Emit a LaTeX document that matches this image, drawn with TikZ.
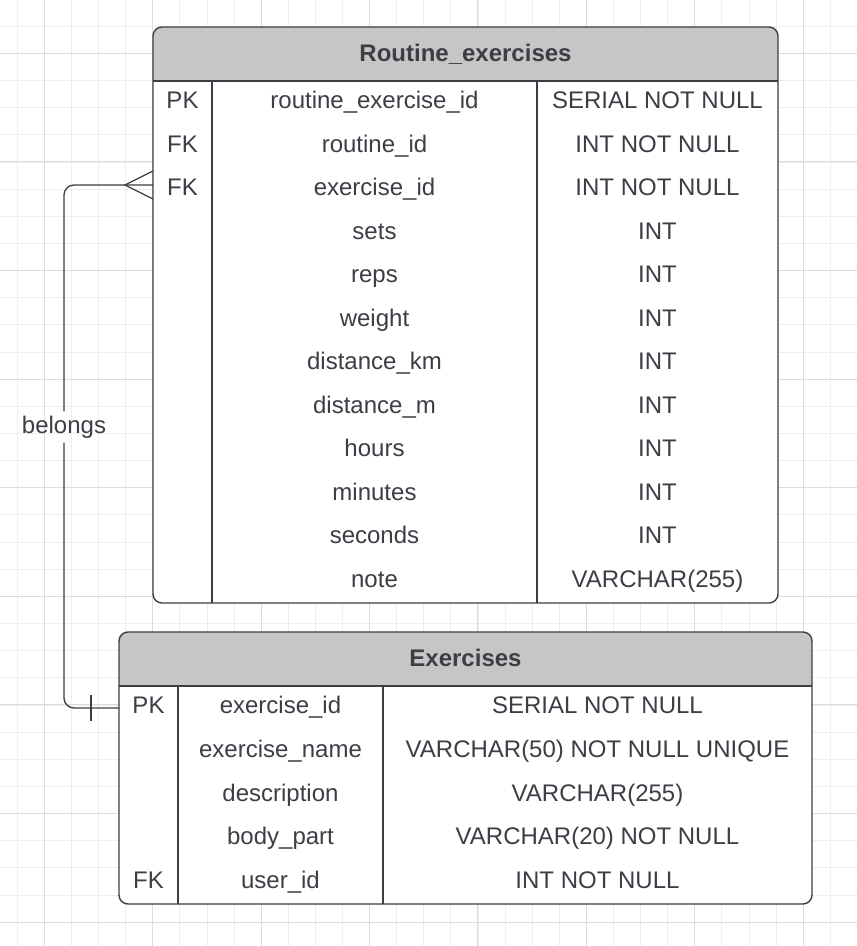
\documentclass[tikz,border=0pt]{standalone}
\usepackage{fontspec}
\setmainfont{Liberation Sans}
\usetikzlibrary{arrows.meta,positioning}

\definecolor{ink}{HTML}{3B3E45}
\definecolor{headgray}{HTML}{C6C6C6}
\definecolor{gridminor}{HTML}{EEEEEE}
\definecolor{gridmajor}{HTML}{DCDCDC}

\tikzset{
  cell/.style={text=ink, inner sep=0pt, text height=18pt, text depth=6pt, font=\fontsize{24}{28}\selectfont},
  title/.style={cell, text depth=4pt, font=\fontsize{24}{28}\selectfont\bfseries},
  frame/.style={draw=ink, line width=1.4pt},
  link/.style={draw=ink, line width=1.3pt}
}

\begin{document}
\begin{tikzpicture}[x=1pt,y=-1pt]
    \useasboundingbox (0,0) rectangle (857,946);
    \fill[white] (0,0) rectangle (857,946);

    % Background grid
    \foreach \k in {0,...,31} \draw[gridminor, line width=0.8pt] (17.2+27.1*\k,0) -- (17.2+27.1*\k,946);
    \foreach \k in {0,...,34} \draw[gridminor, line width=0.8pt] (0,26.15+27.15*\k) -- (857,26.15+27.15*\k);
    \foreach \k in {0,...,7} \draw[gridmajor, line width=0.9pt] (44.3+108.4*\k,0) -- (44.3+108.4*\k,946);
    \foreach \k in {0,...,8} \draw[gridmajor, line width=0.9pt] (0,53.3+108.6*\k) -- (857,53.3+108.6*\k);

    % Routine_exercises table
    \fill[white, rounded corners=9pt] (153,27) rectangle (778,603);
    \begin{scope}
        \clip[rounded corners=9pt] (153,27) rectangle (778,603);
        \fill[headgray] (153,27) rectangle (778,81);
    \end{scope}
    \draw[frame] (153,81) -- (778,81);
    \draw[frame] (212,81) -- (212,603);
    \draw[frame] (537,81) -- (537,603);
    \draw[frame, rounded corners=9pt] (153,27) rectangle (778,603);
    \node[title] (reTitle) at (465.5,54) {Routine\_exercises};
    \foreach \key/\col/\type [count=\i] in {
        PK/routine\_exercise\_id/SERIAL NOT NULL,
        FK/routine\_id/INT NOT NULL,
        FK/exercise\_id/INT NOT NULL,
        /sets/INT,
        /reps/INT,
        /weight/INT,
        /distance\_km/INT,
        /distance\_m/INT,
        /hours/INT,
        /minutes/INT,
        /seconds/INT,
        /note/VARCHAR(255)} {
        \node[cell] (re\i key) at (182.5,81+43.5*\i-21.75) {\key};
        \node[cell] (re\i col) at (374.5,81+43.5*\i-21.75) {\col};
        \node[cell] (re\i type) at (657.5,81+43.5*\i-21.75) {\type};
    }

    % Exercises table
    \fill[white, rounded corners=9pt] (119,632) rectangle (812,904);
    \begin{scope}
        \clip[rounded corners=9pt] (119,632) rectangle (812,904);
        \fill[headgray] (119,632) rectangle (812,686);
    \end{scope}
    \draw[frame] (119,686) -- (812,686);
    \draw[frame] (178,686) -- (178,904);
    \draw[frame] (383,686) -- (383,904);
    \draw[frame, rounded corners=9pt] (119,632) rectangle (812,904);
    \node[title] (exTitle) at (465.5,659) {Exercises};
    \foreach \key/\col/\type [count=\i] in {
        PK/exercise\_id/SERIAL NOT NULL,
        /exercise\_name/VARCHAR(50) NOT NULL UNIQUE,
        /description/VARCHAR(255),
        /body\_part/VARCHAR(20) NOT NULL,
        FK/user\_id/INT NOT NULL} {
        \node[cell] (ex\i key) at (148.5,686+43.6*\i-21.8) {\key};
        \node[cell] (ex\i col) at (280.5,686+43.6*\i-21.8) {\col};
        \node[cell] (ex\i type) at (597.5,686+43.6*\i-21.8) {\type};
    }

    % Relationship: many exercises rows belong to one exercise
    \coordinate (reFK) at (153,185);
    \coordinate (exPK) at (119,708);
    \node[cell, minimum height=31pt] (belongs) at (64,427) {belongs};
    \draw[link, rounded corners=10pt] (reFK) -| (belongs.north);
    \draw[link, rounded corners=10pt] (belongs.south) |- (exPK);
    % crow's foot (many)
    \draw[link] ([yshift=14pt]reFK) -- ([xshift=-28pt]reFK) -- ([yshift=-14pt]reFK);
    % bar (one)
    \draw[link] ([xshift=-28pt,yshift=13pt]exPK) -- ([xshift=-28pt,yshift=-13pt]exPK);
\end{tikzpicture}
\end{document}
